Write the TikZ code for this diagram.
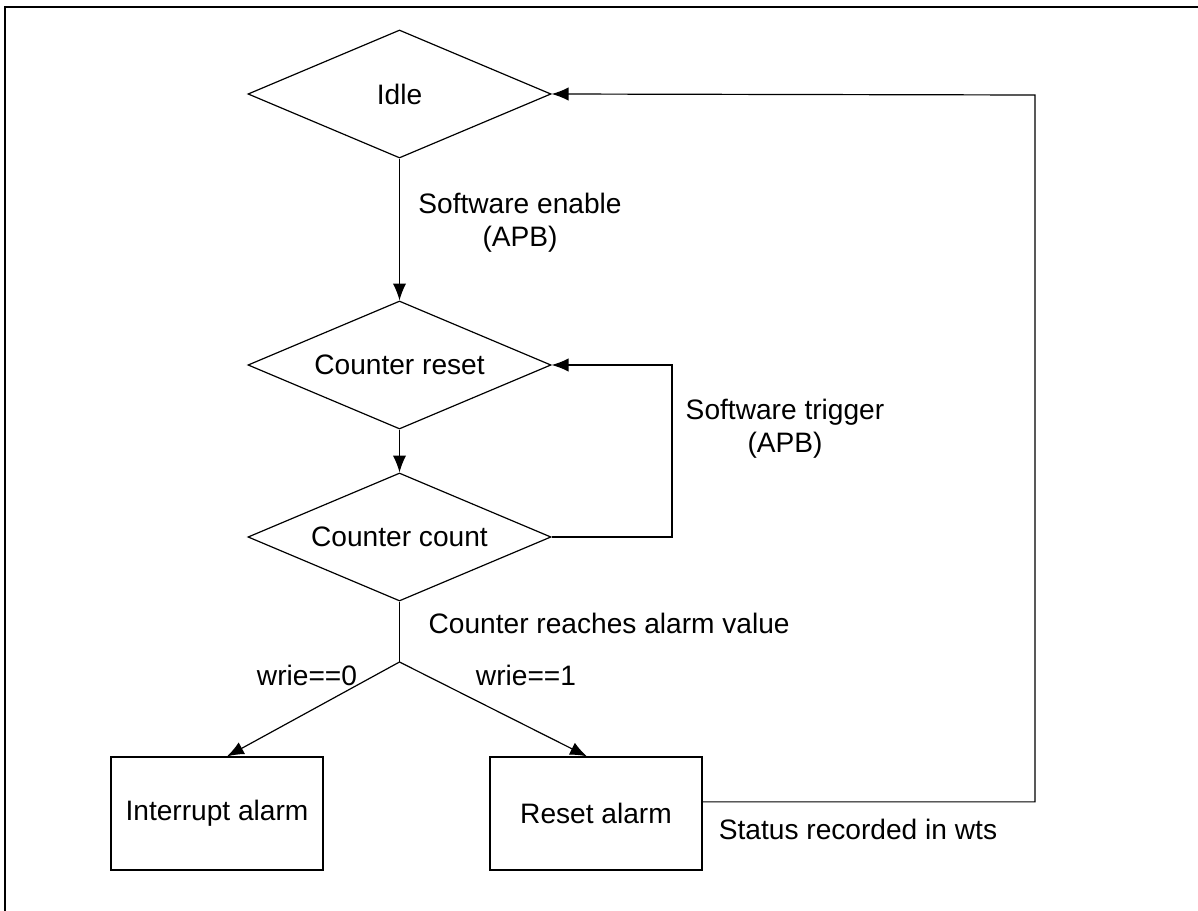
\documentclass[tikz,border=0pt]{standalone}
\usepackage{fontspec}
\setmainfont{Liberation Sans}
\usetikzlibrary{shapes.geometric,arrows.meta,positioning}
\tikzset
{
    decision/.style = {diamond, aspect=2.4, draw=black, align=center, inner sep=0pt, minimum width=7.575cm, minimum height=3.2cm},
    action/.style   = {rectangle, draw=black, align=center, minimum width=5.3cm, minimum height=2.825cm},
    note/.style     = {align=center, inner sep=0pt}
}

\begin{document}
\begin{tikzpicture}[x=0.025cm, y=-0.025cm, line width=0.85pt, >={Latex[length=12pt,width=9.5pt]}, font=\fontsize{20}{23.5}\selectfont]
\useasboundingbox (0,0) rectangle (1198,911);
\draw[line width=1.4pt] (5,911) -- (5,7) -- (1198,7);

\node (idle)	[decision]	at (399.5,94)		{Idle};
\node (reset)	[decision]	at (399.5,365)	{Counter reset};
\node (count)	[decision]	at (399.5,537)	{Counter count};
\node (intr)	[action]		at (217,813.5)	{Interrupt alarm};
\node (rst)		[action]		at (596,813.5)	{Reset alarm};
\coordinate (fork)	at (399.5,662);
\coordinate (tloop)	at (672,365);
\coordinate (sloop)	at (1035,95);

\node (swen)	[note]	at (520,223)		{Software enable\\(APB)};
\node (swtr)	[note]	at (785,429)		{Software trigger\\(APB)};
\node (reach)	[note, anchor=west]	at (428,623)	{Counter reaches alarm value};
\node (w0)		[note]	at (307,675)		{wrie==0};
\node (w1)		[note]	at (526,675)		{wrie==1};
\node (stat)	[note]	at (858,829)		{Status recorded in wts};

\path
(idle)		edge[->]	(reset)
(reset)		edge[->]	(count)
(count)		edge			(fork)
(fork)		edge[->]	([xshift=0.25cm]intr.north)
(fork)		edge[->]	([xshift=-0.225cm]rst.north);

%% loops back
\draw[->] (count.east) -| (tloop) -- (reset.east);
\draw[->] ([yshift=0.29cm]rst.east) -| (sloop) -- (idle.east);

\end{tikzpicture}
\end{document}
